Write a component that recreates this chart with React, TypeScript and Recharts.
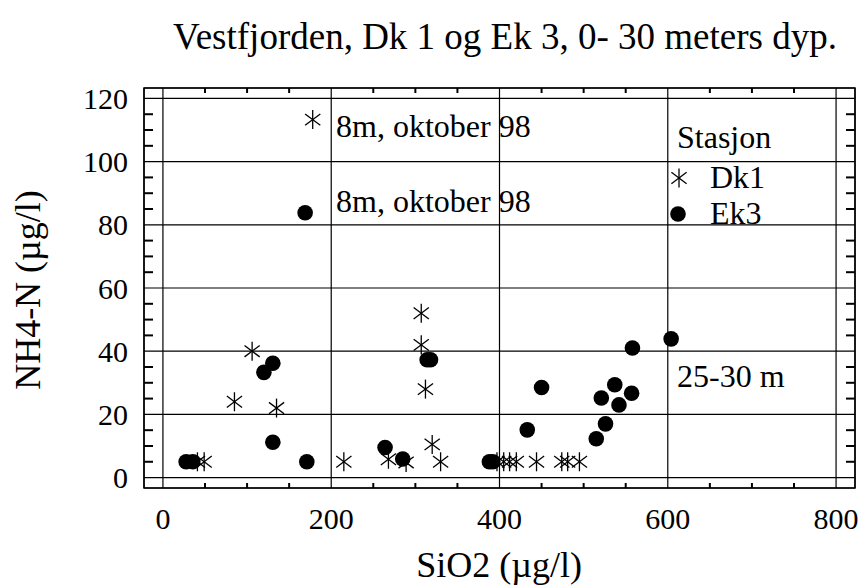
import React from "react";
import {
  ScatterChart,
  Scatter,
  XAxis,
  YAxis,
  CartesianGrid,
  ReferenceArea,
} from "recharts";

// SiO2 (x) vs NH4-N (y), station Dk1 (asterisks)
const dk1Si = [178, 106, 85, 135, 307, 307, 312, 320, 330, 215, 268, 289, 41, 49, 397, 405, 412, 420, 444, 474, 481, 495];
const dk1Nh4 = [113.3, 40, 24, 22, 52, 42, 28, 10.5, 5, 5, 5.8, 4.8, 5, 5, 5, 5, 5, 5, 5, 5, 5, 5];

// station Ek3 (filled circles)
const ek3Si = [169, 130.6, 120, 130.6, 171, 27.6, 35.5, 264, 285, 314, 318, 388, 392, 450, 433, 558, 604, 537, 521, 557, 542, 526, 515];
const ek3Nh4 = [83.8, 36.2, 33.3, 11.2, 5, 5, 5, 9.5, 5.9, 37.3, 37.3, 5, 5, 28.5, 15.1, 41, 43.9, 29.4, 25.2, 26.7, 23, 17, 12.3];

const xTicks = [0, 200, 400, 600, 800];
const yTicks = [0, 20, 40, 60, 80, 100, 120];
const xMinor = [50, 100, 150, 250, 300, 350, 450, 500, 550, 650, 700, 750];
const yMinor = [5, 10, 15, 25, 30, 35, 45, 50, 55, 65, 70, 75, 85, 90, 95, 105, 110, 115];
const xDomain = [-22.5, 822.5];
const yDomain = [-3.3, 123.3];

const dk1 = dk1Si.map((x, i) => ({ x, y: dk1Nh4[i] }));
const ek3 = ek3Si.map((x, i) => ({ x, y: ek3Nh4[i] }));

// minor tick marks sit on the frame, pointing inwards
const leftTicks = yMinor.map((y) => ({ x: xDomain[0], y }));
const rightTicks = yMinor.map((y) => ({ x: xDomain[1], y }));
const topTicks = xMinor.map((x) => ({ x, y: yDomain[1] }));
const bottomTicks = xMinor.map((x) => ({ x, y: yDomain[0] }));

const FONT = "'Liberation Serif', 'Times New Roman', serif";

function Asterisk({ cx, cy }: any) {
  const r = 9.5;
  const dx = r * 0.8;
  const dy = r * 0.6;
  return (
    <g stroke="#000" strokeWidth={1.3}>
      <line x1={cx} y1={cy - r} x2={cx} y2={cy + r} />
      <line x1={cx - dx} y1={cy - dy} x2={cx + dx} y2={cy + dy} />
      <line x1={cx - dx} y1={cy + dy} x2={cx + dx} y2={cy - dy} />
    </g>
  );
}

function Dot({ cx, cy }: any) {
  return <circle cx={cx} cy={cy} r={7.8} fill="#000" />;
}

function LeftTick({ cx, cy }: any) {
  return <line x1={cx} y1={cy} x2={cx + 9} y2={cy} stroke="#000" strokeWidth={2} />;
}
function RightTick({ cx, cy }: any) {
  return <line x1={cx - 9} y1={cy} x2={cx} y2={cy} stroke="#000" strokeWidth={2} />;
}
function TopTick({ cx, cy }: any) {
  return <line x1={cx} y1={cy} x2={cx} y2={cy + 5} stroke="#000" strokeWidth={2} />;
}
function BottomTick({ cx, cy }: any) {
  return <line x1={cx} y1={cy - 5} x2={cx} y2={cy} stroke="#000" strokeWidth={2} />;
}

export default function App() {
  const [x0, x1] = xDomain;
  const [y0, y1] = yDomain;
  return (
    <div style={{ position: "absolute", left: 0, top: 0, width: 864, height: 585, background: "#fff", fontFamily: FONT }}>
      <ScatterChart width={864} height={585} margin={{ top: 88, right: 9, left: 84, bottom: 37 }}>
        <CartesianGrid stroke="#000" strokeWidth={1.2} />
        <XAxis
          dataKey="x"
          type="number"
          domain={xDomain}
          allowDataOverflow
          ticks={xTicks}
          interval={0}
          axisLine={false}
          tickLine={false}
          tickSize={0}
          tickMargin={20}
          height={60}
          tick={{ fill: "#000", fontSize: 30, fontFamily: FONT }}
        />
        <YAxis
          dataKey="y"
          type="number"
          domain={yDomain}
          allowDataOverflow
          ticks={yTicks}
          interval={0}
          axisLine={false}
          tickLine={false}
          tickSize={0}
          tickMargin={16}
          width={60}
          tick={{ fill: "#000", fontSize: 30, fontFamily: FONT }}
        />
        <ReferenceArea
          x1={x0}
          x2={x1}
          y1={y0}
          y2={y1}
          fill="none"
          fillOpacity={0}
          stroke="#000"
          strokeWidth={1.5}
          ifOverflow="visible"
        />
        <Scatter data={leftTicks} shape={<LeftTick />} isAnimationActive={false} />
        <Scatter data={rightTicks} shape={<RightTick />} isAnimationActive={false} />
        <Scatter data={topTicks} shape={<TopTick />} isAnimationActive={false} />
        <Scatter data={bottomTicks} shape={<BottomTick />} isAnimationActive={false} />
        <Scatter name="Dk1" data={dk1} shape={<Asterisk />} isAnimationActive={false} />
        <Scatter name="Ek3" data={ek3} shape={<Dot />} isAnimationActive={false} />

        <text x={505} y={49} textAnchor="middle" fontFamily={FONT} fontSize={37} fill="#000">
          Vestfjorden, Dk 1 og Ek 3, 0- 30 meters dyp.
        </text>
        <text x={499} y={577} textAnchor="middle" fontFamily={FONT} fontSize={36} fill="#000">
          SiO2 (µg/l)
        </text>
        <text x={40} y={290} textAnchor="middle" fontFamily={FONT} fontSize={36} fill="#000" transform="rotate(-90 40 290)">
          NH4-N (µg/l)
        </text>

        <text x={336} y={137} fontFamily={FONT} fontSize={32} fill="#000">8m, oktober 98</text>
        <text x={336} y={212} fontFamily={FONT} fontSize={32} fill="#000">8m, oktober 98</text>
        <text x={677} y={387} fontFamily={FONT} fontSize={32} fill="#000">25-30 m</text>

        <text x={677} y={148} fontFamily={FONT} fontSize={32} fill="#000">Stasjon</text>
        <Asterisk cx={679} cy={178} />
        <text x={710} y={188} fontFamily={FONT} fontSize={32} fill="#000">Dk1</text>
        <Dot cx={678} cy={214} />
        <text x={710} y={224} fontFamily={FONT} fontSize={32} fill="#000">Ek3</text>
      </ScatterChart>
    </div>
  );
}
